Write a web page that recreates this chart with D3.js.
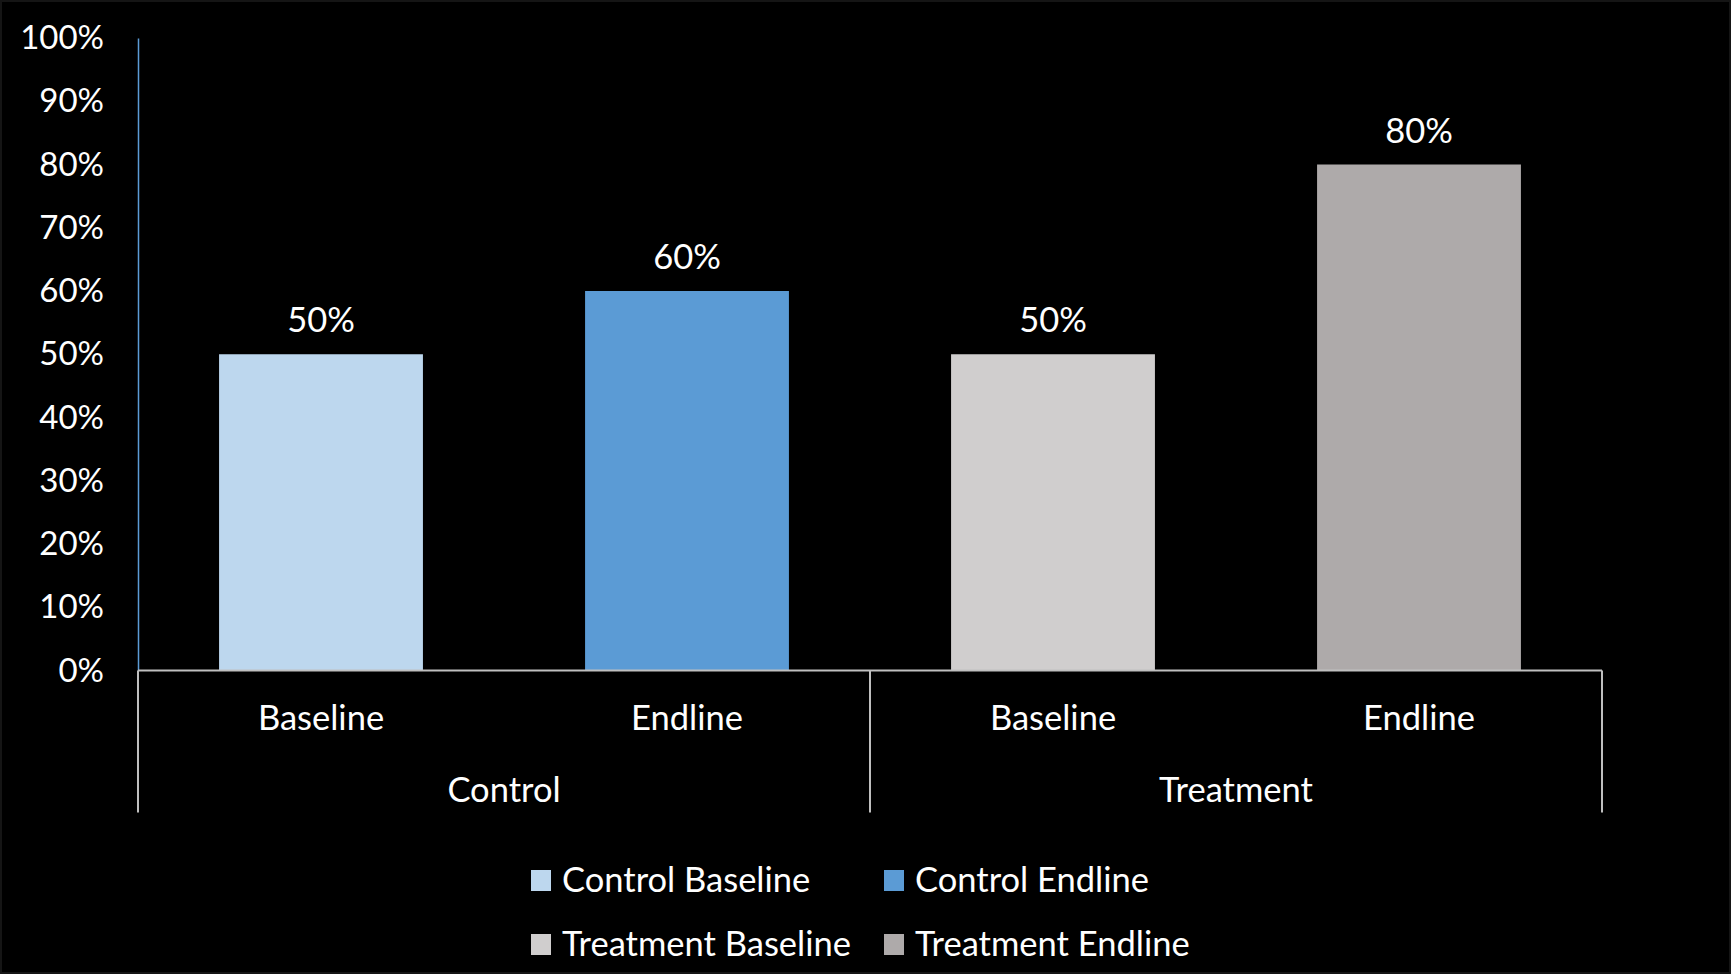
<!DOCTYPE html>
<html>
<head>
<meta charset="utf-8">
<script src="https://cdn.jsdelivr.net/npm/d3@7"></script>
<style>
html,body{margin:0;padding:0;background:#000;}
svg{display:block;}
</style>
</head>
<body>
<svg id="chart" width="1731" height="974"></svg>
<script>
const groups = ["Control", "Treatment"];
const phases = ["Baseline", "Endline"];
const seriesNames = ["Control Baseline", "Control Endline", "Treatment Baseline", "Treatment Endline"];
const values = [0.5, 0.6, 0.5, 0.8];
const colors = ["#BDD7EE", "#5B9BD5", "#D0CECE", "#AEAAAA"];
const yTicks = [0, 0.1, 0.2, 0.3, 0.4, 0.5, 0.6, 0.7, 0.8, 0.9, 1.0];

(function () {
const W = 1731, H = 974;
const font = "Lato, 'Open Sans', sans-serif";
const fs = 34.5;
const tickFs = 33;
const pLeft = 138, pRight = 1602, pTop = 38, pBottom = 670.5;

const svg = d3.select("#chart");
svg.append("rect").attr("width", W).attr("height", H).attr("fill", "#151515");
svg.append("rect").attr("x", 2).attr("y", 2).attr("width", W - 4).attr("height", H - 4).attr("fill", "#000");

const data = seriesNames.map((s, i) => ({name: s, group: groups[Math.floor(i / 2)], phase: phases[i % 2], value: values[i], color: colors[i]}));

const x = d3.scaleBand().domain(seriesNames).range([pLeft, pRight]).paddingInner(0.443).paddingOuter(0.2215);
const y = d3.scaleLinear().domain([0, 1]).range([pBottom, pTop]);

// y axis
const yAxis = d3.axisLeft(y).tickValues(yTicks).tickFormat(d3.format(".0%")).tickSize(0).tickPadding(34);
const ga = svg.append("g").attr("transform", `translate(${pLeft},0)`).call(yAxis);
ga.select(".domain").attr("stroke", "#5B9BD5").attr("stroke-width", 1.5);
ga.selectAll("text").attr("fill", "#fff").style("font-family", font).style("font-size", tickFs + "px");

// bars
svg.selectAll("rect.bar").data(data).enter().append("rect").attr("class", "bar")
  .attr("x", d => x(d.name)).attr("width", x.bandwidth())
  .attr("y", d => y(d.value)).attr("height", d => y(0) - y(d.value))
  .attr("fill", d => d.color);

// value labels
svg.selectAll("text.val").data(data).enter().append("text").attr("class", "val")
  .attr("x", d => x(d.name) + x.bandwidth() / 2).attr("y", d => y(d.value) - 22)
  .attr("text-anchor", "middle").attr("fill", "#fff")
  .style("font-family", font).style("font-size", fs + "px")
  .text(d => d3.format(".0%")(d.value));

// x axis (multi-level)
const axisColor = "#BFBFBF";
svg.append("line").attr("x1", pLeft).attr("x2", pRight).attr("y1", pBottom).attr("y2", pBottom)
  .attr("stroke", axisColor).attr("stroke-width", 2);
const groupW = (pRight - pLeft) / groups.length;
[0, 1, 2].forEach(i => {
  svg.append("line").attr("x1", pLeft + i * groupW).attr("x2", pLeft + i * groupW)
    .attr("y1", pBottom).attr("y2", 812.5).attr("stroke", axisColor).attr("stroke-width", 2);
});
svg.selectAll("text.cat").data(data).enter().append("text").attr("class", "cat")
  .attr("x", d => x(d.name) + x.bandwidth() / 2).attr("y", 730)
  .attr("text-anchor", "middle").attr("fill", "#fff")
  .style("font-family", font).style("font-size", fs + "px")
  .text(d => d.phase);
svg.selectAll("text.grp").data(groups).enter().append("text").attr("class", "grp")
  .attr("x", (d, i) => pLeft + groupW * (i + 0.5)).attr("y", 801.5)
  .attr("text-anchor", "middle").attr("fill", "#fff")
  .style("font-family", font).style("font-size", fs + "px")
  .text(d => d);

// legend
const legX = [531, 884], legY = [870, 934];
const lg = svg.selectAll("g.leg").data(data).enter().append("g").attr("class", "leg")
  .attr("transform", (d, i) => `translate(${legX[i % 2]},${legY[Math.floor(i / 2)]})`);
lg.append("rect").attr("width", 20).attr("height", 21).attr("fill", d => d.color);
lg.append("text").attr("x", 31).attr("y", 22).attr("fill", "#fff")
  .style("font-family", font).style("font-size", fs + "px").text(d => d.name);
})();
</script>
</body>
</html>
